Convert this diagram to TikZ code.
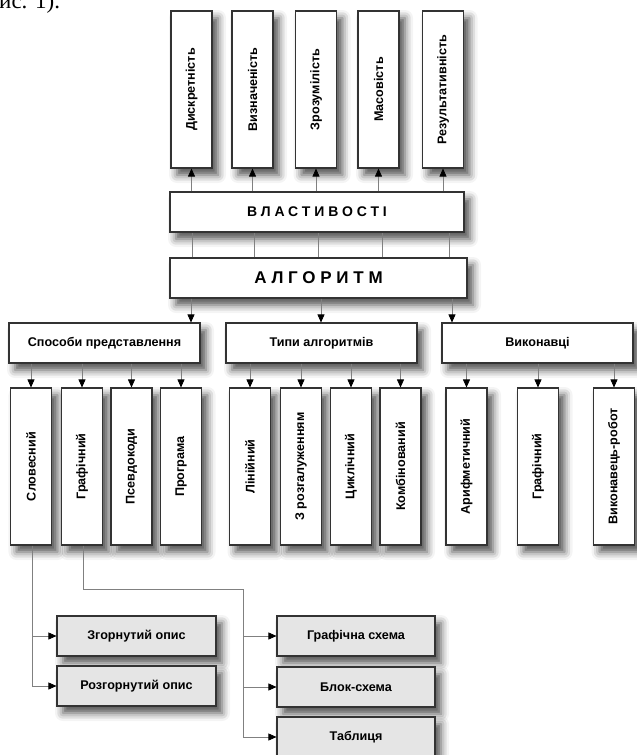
\documentclass[tikz,border=0pt]{standalone}
\usepackage{fontspec}
\setmainfont{Liberation Sans}
\newfontfamily\captionserif{Liberation Serif}
\newfontfamily\spacedA[LetterSpace=28]{Liberation Sans}
\usepackage{graphicx}
\usetikzlibrary{arrows.meta,shadows.blur}
\begin{document}
\begin{tikzpicture}[x=1pt,y=-1pt,
  box/.style={draw=black!80,line width=1.1pt,fill=white,inner sep=0pt,
     blur shadow={shadow xshift=6pt,shadow yshift=-7pt,shadow blur radius=8pt,shadow opacity=70},
     font=\bfseries\fontsize{12.6}{15}\selectfont},
  vbox/.style={box,minimum width=41pt,minimum height=157pt},
  hbox/.style={box,minimum width=191pt,minimum height=40pt},
  gbox/.style={box,fill=black!10,minimum width=159pt,minimum height=40pt},
  arr/.style={draw=black!50,line width=0.7pt,-{Triangle[length=8pt,width=7pt,color=black]}},
  ln/.style={draw=black!50,line width=0.7pt}]
\useasboundingbox (0,0) rectangle (637,755);
\node[anchor=base west,inner sep=0pt,font=\captionserif\fontsize{23}{26}\selectfont] (cap) at (-1,8) {ис. 1).};
% properties
\node[vbox] (p1) at (191.5,89.5) {\rotatebox{90}{Дискретність}};
\node[vbox] (p2) at (252.5,89.5) {\rotatebox{90}{Визначеність}};
\node[vbox] (p3) at (316,89.5) {\rotatebox{90}{Зрозумілість}};
\node[vbox] (p4) at (378.5,89.5) {\rotatebox{90}{Масовість}};
\node[vbox] (p5) at (443,89.5) {\rotatebox{90}{Результативність}};
\node[box,minimum width=294pt,minimum height=40pt,font=\spacedA\bfseries\fontsize{14}{16}\selectfont] (vl) at (317,212) {ВЛАСТИВОСТІ};
\node[box,minimum width=297pt,minimum height=40pt,font=\spacedA\bfseries\fontsize{17}{19}\selectfont] (alg) at (318.5,278) {АЛГОРИТМ};
% level 2
\node[hbox] (sp) at (104.5,343) {Способи представлення};
\node[hbox] (tp) at (321.5,343) {Типи алгоритмів};
\node[hbox] (vk) at (537.5,343) {Виконавці};
% level 3
\node[vbox] (s1) at (31,466.5) {\rotatebox{90}{Словесний}};
\node[vbox] (s2) at (82,466.5) {\rotatebox{90}{Графічний}};
\node[vbox] (s3) at (131.5,466.5) {\rotatebox{90}{Псевдокоди}};
\node[vbox] (s4) at (181,466.5) {\rotatebox{90}{Програма}};
\node[vbox] (t1) at (250,466.5) {\rotatebox{90}{Лінійний}};
\node[vbox] (t2) at (301,466.5) {\rotatebox{90}{З розгалуженням}};
\node[vbox] (t3) at (351,466.5) {\rotatebox{90}{Циклічний}};
\node[vbox] (t4) at (400.5,466.5) {\rotatebox{90}{Комбінований}};
\node[vbox] (e1) at (466.5,466.5) {\rotatebox{90}{Арифметичний}};
\node[vbox] (e2) at (538,466.5) {\rotatebox{90}{Графічний}};
\node[vbox] (e3) at (614,466.5) {\rotatebox{90}{Виконавець-робот}};
% bottom
\node[gbox] (g1) at (136.5,636) {Згорнутий опис};
\node[gbox] (g2) at (136.5,686) {Розгорнутий опис};
\node[gbox,minimum width=158pt] (g3) at (356,636) {Графічна схема};
\node[gbox,minimum width=158pt] (g4) at (356,687) {Блок-схема};
\node[gbox,minimum width=158pt] (g5) at (356,737) {Таблиця};
% connectors top
\foreach \p in {p1,p2,p3,p4,p5} \draw[arr] (vl.north -| \p) -- (\p.south);
\foreach \xx in {192,254,318,382,449} \draw[ln] (alg.north -| \xx,0) -- (vl.south -| \xx,0);
\draw[arr] (alg.south -| 191,0) -- (sp.north -| 191,0);
\draw[arr] (alg.south -| 321,0) -- (tp.north -| 321,0);
\draw[arr] (alg.south -| 452,0) -- (vk.north -| 452,0);
\foreach \c in {s1,s2,s3,s4} \draw[arr] (sp.south -| \c) -- (\c.north);
\foreach \c in {t1,t2,t3,t4} \draw[arr] (tp.south -| \c) -- (\c.north);
\foreach \c in {e1,e2,e3} \draw[arr] (vk.south -| \c) -- (\c.north);
% connectors bottom
\draw[arr] (s1.south -| 32,0) |- (g2.west);
\draw[arr] (g1.west -| 32,0) -- (g1.west);
\coordinate (bend) at (243,589);
\draw[ln] (s2.south -| 83,0) |- (bend) -- (g5.west -| bend);
\draw[arr] (g5.west -| bend) -- (g5.west);
\draw[arr] (g3.west -| bend) -- (g3.west);
\draw[arr] (g4.west -| bend) -- (g4.west);
\end{tikzpicture}
\end{document}
